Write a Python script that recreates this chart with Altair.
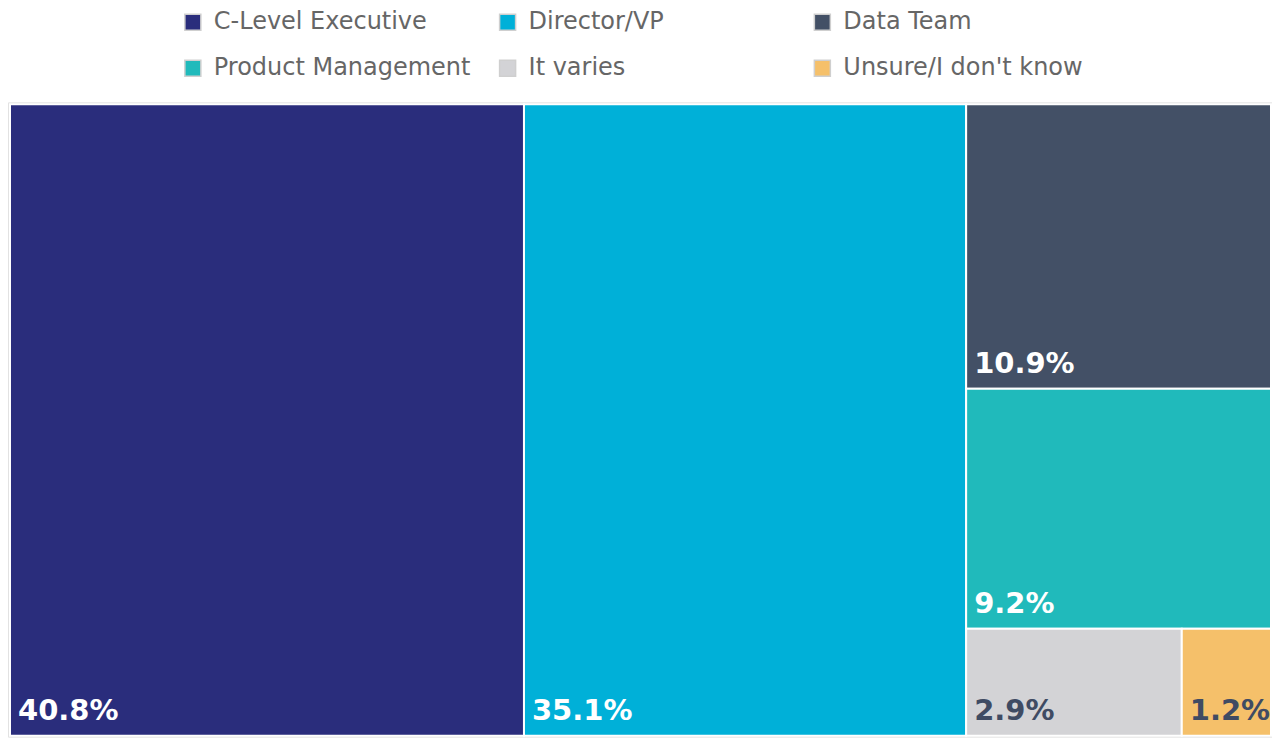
import altair as alt
import pandas as pd

categories = ["C-Level Executive", "Director/VP", "Data Team",
              "Product Management", "It varies", "Unsure/I don't know"]
shares = [40.8, 35.1, 10.9, 9.2, 2.9, 1.2]
palette = ["#2a2d7c", "#00b0d8", "#435066", "#20babb", "#d3d3d6", "#f5c06a"]
dark_label_categories = ["It varies", "Unsure/I don't know"]

W, H = 1264, 634


def squarify(values, x0, y0, x1, y1, ratio=1.0):
    out = [None] * len(values)
    value = sum(values)
    i0, n = 0, len(values)
    while i0 < n:
        dx, dy = x1 - x0, y1 - y0
        s = values[i0]
        mn = mx = s
        alpha = max(dy / dx, dx / dy) / (value * ratio)
        beta = s * s * alpha
        minr = max(mx / beta, beta / mn)
        i1 = i0 + 1
        while i1 < n:
            v = values[i1]
            s += v
            mn, mx = min(mn, v), max(mx, v)
            beta = s * s * alpha
            nr = max(mx / beta, beta / mn)
            if nr > minr:
                s -= v
                break
            minr = nr
            i1 += 1
        if dx < dy:
            ny = y0 + dy * s / value
            cx = x0
            for i in range(i0, i1):
                w = dx * values[i] / s
                out[i] = (cx, y0, cx + w, ny)
                cx += w
            y0 = ny
        else:
            nx = x0 + dx * s / value
            cy = y0
            for i in range(i0, i1):
                h = dy * values[i] / s
                out[i] = (x0, cy, nx, cy + h)
                cy += h
            x0 = nx
        value -= s
        i0 = i1
    return out


cells = squarify(shares, 0, 0, W, H)
df = pd.DataFrame({
    "category": categories,
    "share": shares,
    "label": [f"{v:.1f}%" for v in shares],
    "x0": [c[0] for c in cells],
    "y0": [c[1] for c in cells],
    "x1": [c[2] for c in cells],
    "y1": [c[3] for c in cells],
})

xs = alt.Scale(domain=[0, W], nice=False, zero=False, padding=1)
ys = alt.Scale(domain=[0, H], nice=False, zero=False, reverse=True, padding=1)

base = alt.Chart(df)

rects = base.mark_rect(stroke="white", strokeWidth=2, opacity=1).encode(
    x=alt.X("x0:Q", scale=xs, axis=None),
    x2="x1:Q",
    y=alt.Y("y0:Q", scale=ys, axis=None),
    y2="y1:Q",
    color=alt.Color(
        "category:N",
        scale=alt.Scale(domain=categories, range=palette),
        sort=categories,
        legend=alt.Legend(
            title=None, orient="none", legendX=172, legendY=-93,
            columns=3, gridAlign="all", direction="horizontal",
            symbolType="square", symbolSize=256, symbolOpacity=1,
            symbolStrokeColor="#cfcfcf", symbolStrokeWidth=1.5,
            labelFont="DejaVu Sans", labelFontSize=24, labelColor="#666666",
            labelOffset=9, rowPadding=22, columnPadding=25,
            labelLimit=500, padding=0,
        ),
    ),
)

texts = base.mark_text(
    align="left", baseline="alphabetic", dx=8, dy=-16,
    font="DejaVu Sans", fontSize=29, fontWeight="bold",
).encode(
    x=alt.X("x0:Q", scale=xs, axis=None),
    y=alt.Y("y1:Q", scale=ys, axis=None),
    text="label:N",
    color=alt.condition(
        alt.FieldOneOfPredicate(field="category", oneOf=dark_label_categories),
        alt.value("#3f4b63"),
        alt.value("white"),
    ),
)

chart = (
    alt.layer(rects, texts)
    .properties(width=W, height=H,
                padding={"top": 2, "left": 0, "right": 0, "bottom": 0})
    .configure_view(stroke="#d9d9d9", strokeWidth=1.5)
)

chart.save("out.html", embed_options={"renderer": "svg", "actions": False})
